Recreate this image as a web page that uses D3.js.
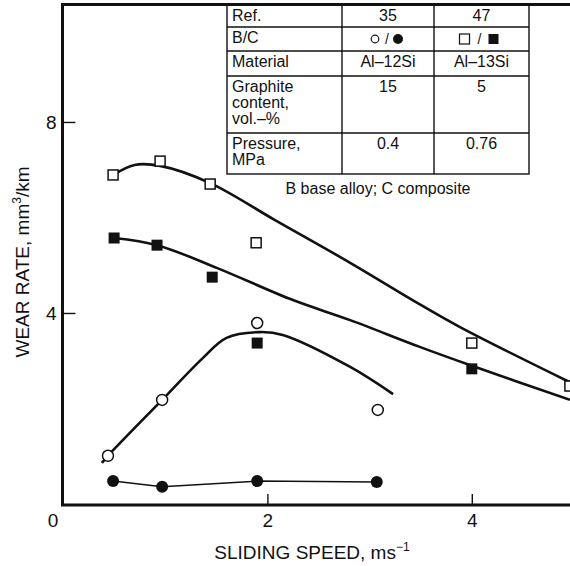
<!DOCTYPE html>
<html>
<head>
<meta charset="utf-8">
<script src="https://cdn.jsdelivr.net/npm/d3@7/dist/d3.min.js"></script>
<style>
  body { margin: 0; background: #fff; }
  svg { display: block; }
  text { font-family: "Liberation Sans", Arial, Helvetica, sans-serif; fill: #111; }
</style>
</head>
<body>
<svg id="chart" width="570" height="566"></svg>
<script>
// Wear rate against sliding speed for base alloys (B) and graphite composites (C)

// Ref. 35, Al-12Si: base alloy (open circles) and composite (filled circles)
const speedB35 = [0.44, 0.97, 1.90, 3.08];
const wearB35  = [1.01, 2.18, 3.79, 1.97];
const speedC35 = [0.49, 0.97, 1.90, 3.07];
const wearC35  = [0.48, 0.36, 0.48, 0.46];

// Ref. 47, Al-13Si: base alloy (open squares) and composite (filled squares)
const speedB47 = [0.49, 0.95, 1.44, 1.89, 4.00, 4.96];
const wearB47  = [6.89, 7.18, 6.70, 5.47, 3.37, 2.47];
const speedC47 = [0.50, 0.92, 1.46, 1.90, 4.00];
const wearC47  = [5.57, 5.42, 4.75, 3.37, 2.83];

// Hand-drawn trend curves
const fitSpeedB47 = [0.49, 0.70, 0.95, 1.44, 2.07, 2.81, 3.42, 3.88, 4.96];
const fitWearB47  = [6.89, 7.10, 7.08, 6.72, 5.95, 5.05, 4.27, 3.71, 2.55];
const fitSpeedC47 = [0.50, 0.92, 1.51, 2.25, 2.81, 3.49, 3.98, 4.96];
const fitWearC47  = [5.57, 5.42, 4.94, 4.27, 3.85, 3.29, 2.91, 2.18];
const fitSpeedB35 = [0.38, 0.44, 0.97, 1.37, 1.60, 1.93, 2.15, 2.81, 3.23];
const fitWearB35  = [0.86, 1.01, 2.18, 3.06, 3.48, 3.60, 3.54, 2.87, 2.30];

const xTicks = [2, 4];
const yTicks = [4, 8];

// Inset table
const tableHeads = ["Ref.", "B/C", "Material", "Graphite|content,|vol.–%", "Pressure,|MPa"];
const tableRef35 = ["35", "", "Al–12Si", "15", "0.4"];
const tableRef47 = ["47", "", "Al–13Si", "5", "0.76"];
const tableNote = "B base alloy; C composite";

const svg = d3.select("#chart");
const ink = "#111";

const x = d3.scaleLinear().domain([0, 5]).range([63, 574]);
const y = d3.scaleLinear().domain([0, 10.47]).range([504, 4]);

const plotLeft = 62.5, plotTop = 4.5, plotRight = 570, plotBottom = 505;

svg.append("defs").append("clipPath").attr("id", "plotclip")
  .append("rect").attr("x", plotLeft).attr("y", plotTop)
  .attr("width", plotRight - plotLeft).attr("height", plotBottom - plotTop);

const zip = (a, b) => a.map((v, i) => [v, b[i]]);

// Axes (ticks point inwards)
const yAxis = svg.append("g").attr("transform", `translate(${plotLeft},0)`)
  .call(d3.axisLeft(y).tickValues(yTicks).tickSize(-13).tickPadding(6).tickFormat(d3.format("d")));
const xAxis = svg.append("g").attr("transform", `translate(0,${plotBottom})`)
  .call(d3.axisBottom(x).tickValues(xTicks).tickSize(-11).tickPadding(9).tickFormat(d3.format("d")));
[yAxis, xAxis].forEach(g => {
  g.select(".domain").remove();
  g.selectAll(".tick line").attr("stroke", ink).attr("stroke-width", 1.4);
  g.selectAll(".tick text").attr("font-size", 19).attr("fill", ink)
    .style("font-family", '"Liberation Sans", Arial, sans-serif');
});
// shared origin label
svg.append("text").attr("x", 53).attr("y", plotBottom + 9).attr("dy", "0.71em")
  .attr("text-anchor", "middle").attr("font-size", 19).text("0");

// Frame
svg.append("path").attr("d", `M${plotRight},${plotTop}H${plotLeft}V${plotBottom}H${plotRight}`)
  .attr("fill", "none").attr("stroke", ink).attr("stroke-width", 3).attr("stroke-linecap", "square");

// Trend curves
const plot = svg.append("g").attr("clip-path", "url(#plotclip)");
const smooth = d3.line().x(d => x(d[0])).y(d => y(d[1])).curve(d3.curveCatmullRom.alpha(0.5));
const straight = d3.line().x(d => x(d[0])).y(d => y(d[1]));

[[fitSpeedB47, fitWearB47], [fitSpeedC47, fitWearC47], [fitSpeedB35, fitWearB35]].forEach(([s, w]) => {
  plot.append("path").attr("d", smooth(zip(s, w)))
    .attr("fill", "none").attr("stroke", ink).attr("stroke-width", 2.6);
});
plot.append("path").attr("d", straight(zip(speedC35, wearC35)))
  .attr("fill", "none").attr("stroke", ink).attr("stroke-width", 1.5);

// Markers
const sq = 10;
plot.selectAll(".sqB").data(zip(speedB47, wearB47)).join("rect")
  .attr("x", d => x(d[0]) - sq / 2).attr("y", d => y(d[1]) - sq / 2)
  .attr("width", sq).attr("height", sq)
  .attr("fill", "#fff").attr("stroke", ink).attr("stroke-width", 1.5);
plot.selectAll(".sqC").data(zip(speedC47, wearC47)).join("rect")
  .attr("x", d => x(d[0]) - (sq + 1) / 2).attr("y", d => y(d[1]) - (sq + 1) / 2)
  .attr("width", sq + 1).attr("height", sq + 1).attr("fill", ink);
plot.selectAll(".ciB").data(zip(speedB35, wearB35)).join("circle")
  .attr("cx", d => x(d[0])).attr("cy", d => y(d[1])).attr("r", 5.5)
  .attr("fill", "#fff").attr("stroke", ink).attr("stroke-width", 1.5);
plot.selectAll(".ciC").data(zip(speedC35, wearC35)).join("circle")
  .attr("cx", d => x(d[0])).attr("cy", d => y(d[1])).attr("r", 6).attr("fill", ink);

// Inset table
const colX = [227, 342, 434, 529];
const rowY = [4.5, 27, 51, 76, 133, 174];
const tbl = svg.append("g");
tbl.append("rect").attr("x", colX[0]).attr("y", rowY[0])
  .attr("width", colX[3] - colX[0]).attr("height", rowY[5] - rowY[0])
  .attr("fill", "#fff").attr("stroke", ink).attr("stroke-width", 1.4);
rowY.slice(1, 5).forEach(ry => tbl.append("line").attr("x1", colX[0]).attr("x2", colX[3])
  .attr("y1", ry).attr("y2", ry).attr("stroke", ink).attr("stroke-width", 1.4));
colX.slice(1, 3).forEach(cx => tbl.append("line").attr("x1", cx).attr("x2", cx)
  .attr("y1", rowY[0]).attr("y2", rowY[5]).attr("stroke", ink).attr("stroke-width", 1.4));
tbl.append("line").attr("x1", colX[0]).attr("x2", colX[3]).attr("y1", rowY[0]).attr("y2", rowY[0])
  .attr("stroke", ink).attr("stroke-width", 3);

const fs = 16, lh = 16;
tableHeads.forEach((h, i) => {
  h.split("|").forEach((part, k) => tbl.append("text")
    .attr("x", colX[0] + 5).attr("y", rowY[i] + 16 + k * lh)
    .attr("font-size", fs).text(part));
});
[tableRef35, tableRef47].forEach((col, c) => {
  const cx = (colX[c + 1] + colX[c + 2]) / 2;
  col.forEach((v, i) => {
    if (v) tbl.append("text").attr("x", cx).attr("y", rowY[i] + 16)
      .attr("text-anchor", "middle").attr("font-size", fs).text(v);
  });
});
// B/C marker key
const keyY = (rowY[1] + rowY[2]) / 2;
const c35 = (colX[1] + colX[2]) / 2, c47 = (colX[2] + colX[3]) / 2;
tbl.append("circle").attr("cx", c35 - 13).attr("cy", keyY).attr("r", 3.8)
  .attr("fill", "#fff").attr("stroke", ink).attr("stroke-width", 1.2);
tbl.append("circle").attr("cx", c35 + 10).attr("cy", keyY).attr("r", 5).attr("fill", ink);
tbl.append("text").attr("x", c35 - 1).attr("y", keyY + 5).attr("text-anchor", "middle").attr("font-size", 14).text("/");
tbl.append("rect").attr("x", c47 - 22).attr("y", keyY - 5).attr("width", 10).attr("height", 10)
  .attr("fill", "#fff").attr("stroke", ink).attr("stroke-width", 1.2);
tbl.append("rect").attr("x", c47 + 7).attr("y", keyY - 5).attr("width", 10).attr("height", 10).attr("fill", ink);
tbl.append("text").attr("x", c47 - 2).attr("y", keyY + 5).attr("text-anchor", "middle").attr("font-size", 14).text("/");

tbl.append("text").attr("x", (colX[0] + colX[3]) / 2).attr("y", rowY[5] + 20)
  .attr("text-anchor", "middle").attr("font-size", fs).text(tableNote);

// Axis titles
const yt = svg.append("text").attr("transform", "translate(29,262) rotate(-90)")
  .attr("text-anchor", "middle").attr("font-size", 19);
yt.append("tspan").text("WEAR RATE, mm");
yt.append("tspan").attr("font-size", 12).attr("dy", -8).text("3");
yt.append("tspan").attr("dy", 8).text("/km");

const xt = svg.append("text").attr("x", 312).attr("y", 559)
  .attr("text-anchor", "middle").attr("font-size", 19);
xt.append("tspan").text("SLIDING SPEED, ms");
xt.append("tspan").attr("font-size", 12).attr("dy", -8).text("−1");
</script>
</body>
</html>
